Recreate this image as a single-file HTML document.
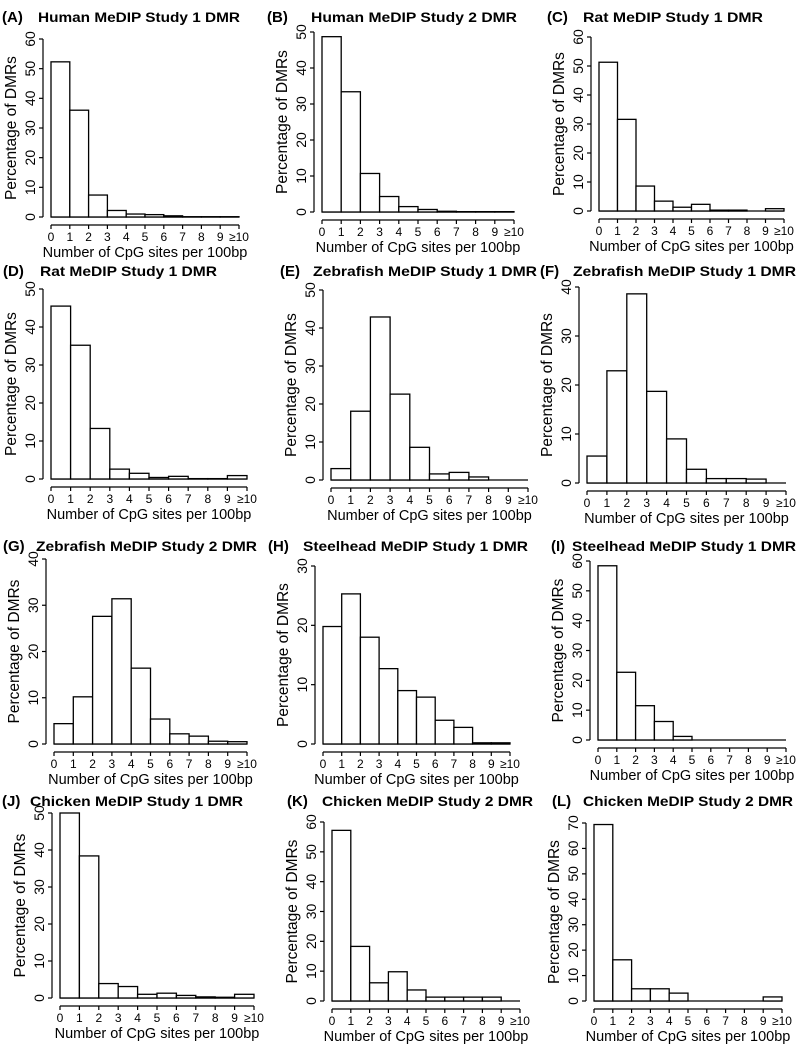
<!DOCTYPE html>
<html><head><meta charset="utf-8"><style>
html,body{margin:0;padding:0;background:#fff}
svg{display:block;font-family:"Liberation Sans",sans-serif}
</style></head><body>
<svg id="fig" width="800" height="1045" viewBox="0 0 800 1045"></svg>
<script>
const binLabels = ["0","1","2","3","4","5","6","7","8","9","≥10"];
const valuesA = [52.3,36,7.4,2.2,1,0.8,0.4,0.1,0.1,0.1];
const valuesB = [48.7,33.4,10.7,4.3,1.5,0.7,0.2,0.1,0.1,0.1];
const valuesC = [51.3,31.6,8.6,3.4,1.3,2.3,0.3,0.3,0,0.8];
const valuesD = [45.5,35.2,13.3,2.6,1.5,0.4,0.7,0.1,0.1,0.9];
const valuesE = [3,18.1,42.9,22.6,8.6,1.6,2,0.8,0,0];
const valuesF = [5.5,22.9,38.6,18.7,9,2.8,0.9,0.9,0.8,0];
const valuesG = [4.4,10.2,27.6,31.4,16.4,5.4,2.2,1.7,0.6,0.5];
const valuesH = [19.8,25.3,18,12.7,9,7.9,4,2.8,0.2,0.2];
const valuesI = [58.4,22.7,11.5,6.2,1.2,0,0,0,0,0];
const valuesJ = [50,38.4,3.9,3.1,1,1.3,0.7,0.3,0.2,1];
const valuesK = [57.2,18.3,6.1,9.8,3.7,1.3,1.3,1.3,1.3,0];
const valuesL = [69.4,16.2,4.8,4.8,3.1,0,0,0,0,1.6];
const yMaxes = [60,50,60,50,50,40,40,30,60,50,60,70];
const panelLetters = ["A","B","C","D","E","F","G","H","I","J","K","L"];
const panelTitles = ["Human MeDIP Study 1 DMR","Human MeDIP Study 2 DMR","Rat MeDIP Study 1 DMR","Rat MeDIP Study 1 DMR","Zebrafish MeDIP Study 1 DMR","Zebrafish MeDIP Study 1 DMR","Zebrafish MeDIP Study 2 DMR","Steelhead MeDIP Study 1 DMR","Steelhead MeDIP Study 1 DMR","Chicken MeDIP Study 1 DMR","Chicken MeDIP Study 2 DMR","Chicken MeDIP Study 2 DMR"];
const allValues = [valuesA,valuesB,valuesC,valuesD,valuesE,valuesF,valuesG,valuesH,valuesI,valuesJ,valuesK,valuesL];

// layout: [labelX, titleX, titleEnd, titleBaseline, x0, x10, y0, yTop, narrow]
const layout = [
 [2,38,240,22,51,239,217,39,0],
 [267,311,517,22,322,514,212,32,0],
 [547,583,763,22,599,784,211,37,0],
 [3,40,217,276,51,247,479,289,1],
 [280,313,537,276,331,528,480,290,1],
 [540,573,796,276,587,786,483,287,1],
 [3,36,257,551,54,247,744,559,1],
 [268,303,528,551,323,510,744,566,1],
 [551,572,796,551,598,786,740,561,1],
 [2,30,243,806,60,254,998,813,0],
 [287,322,533,806,332,520,1001,822,0],
 [552,583,793,806,594,782,1001,823,0]
];
const NS="http://www.w3.org/2000/svg";
const svg=document.getElementById('fig');
function mk(tag,attrs,parent){const e=document.createElementNS(NS,tag);for(const k in attrs)e.setAttribute(k,attrs[k]);parent.appendChild(e);return e;}

allValues.forEach((vals,p)=>{
  const [lx,tx,tend,tb,x0,x10,y0,yTop,narrow]=layout[p];
  const ymax=yMaxes[p];
  const xs=v=>x0+(x10-x0)*v/10;
  const ys=v=>y0-(y0-yTop)*v/ymax;
  const g=mk('g',{},svg);
  
  
  const lab=mk('text',{x:lx,y:tb,'font-size':15,'font-weight':'bold'},g);
  lab.textContent='('+panelLetters[p]+')';
  
  
  const tt=mk('text',{x:tx,y:tb,'font-size':narrow?14:13.5,'font-weight':'bold',textLength:tend-tx,lengthAdjust:'spacingAndGlyphs'},g);
  tt.textContent=panelTitles[p];
  
  
  // baseline
  const bl=mk('line',{x1:xs(0),x2:xs(10),y1:y0,y2:y0,stroke:'#000','stroke-width':1.3},g);
  
  
  // bars
  vals.forEach((v,i)=>{
    const r=mk('rect',{x:xs(i),y:ys(v),width:xs(i+1)-xs(i),height:y0-ys(v),fill:'#fff',stroke:'#000','stroke-width':1.3},g);
    
    
  });
  // y axis
  const yax=x0-8;
  const ya=mk('line',{x1:yax,x2:yax,y1:ys(0),y2:ys(ymax),stroke:'#000','stroke-width':1.2},g);
  
  
  for(let t=0;t<=ymax;t+=10){
    const y=ys(t);
    mk('line',{x1:yax-4,x2:yax,y1:y,y2:y,stroke:'#000','stroke-width':1.2},g);
    const tl=mk('text',{x:0,y:0,'font-size':14,'text-anchor':'middle',transform:`translate(${yax-8},${y}) rotate(-90)`},g);
    tl.textContent=t;
    
    
  }
  const yt=mk('text',{x:0,y:0,'font-size':15.5,'text-anchor':'middle',transform:`translate(${yax-27},${(ys(0)+ys(ymax))/2}) rotate(-90)`},g);
  yt.textContent='Percentage of DMRs';
  
  
  // x axis
  const xay=y0+8;
  const xa=mk('line',{x1:xs(0),x2:xs(10),y1:xay,y2:xay,stroke:'#000','stroke-width':1.2},g);
  
  
  binLabels.forEach((b,i)=>{
    const x=xs(i);
    mk('line',{x1:x,x2:x,y1:xay,y2:xay+4,stroke:'#000','stroke-width':1.2},g);
    const tl=mk('text',{x:x,y:xay+16,'font-size':12,'text-anchor':'middle'},g);
    tl.textContent=b;
    
    
  });
  const xt=mk('text',{x:(xs(0)+xs(10))/2,y:xay+32,'font-size':14.5,'text-anchor':'middle'},g);
  xt.textContent='Number of CpG sites per 100bp';
  
  
});
</script>
</body></html>
